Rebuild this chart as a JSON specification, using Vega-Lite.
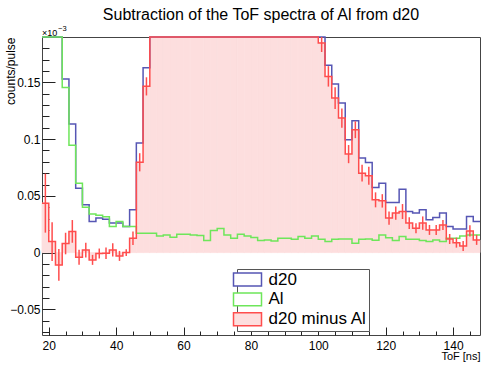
{
  "$schema": "https://vega.github.io/schema/vega-lite/v6.json",
  "autosize": "none",
  "width": 438,
  "height": 298,
  "padding": {"left": 42, "top": 37, "right": 20, "bottom": 32},
  "background": "white",
  "title": {"text": "Subtraction of the ToF spectra of Al from d20", "font": "Liberation Sans", "fontSize": 16, "fontWeight": "normal", "color": "black", "anchor": "middle", "frame": "group", "offset": 2},
  "config": {
    "view": {"stroke": "#444444", "strokeWidth": 1},
    "axis": {"grid": false, "domain": false, "labelFont": "Liberation Sans", "labelFontSize": 12, "labelColor": "black", "tickColor": "#222222", "tickWidth": 1, "titleFont": "Liberation Sans", "titleFontWeight": "normal", "titleColor": "black"},
    "legend": {"labelFont": "Liberation Sans"}
  },
  "data": {"values": [
    {"x0": 18, "x1": 20, "tof": 19, "d20": 0.4636, "Al": 0.42, "d20 minus Al": 0.0436, "err": 0.026},
    {"x0": 20, "x1": 22, "tof": 21, "d20": 0.3397, "Al": 0.33, "d20 minus Al": 0.0097, "err": 0.017},
    {"x0": 22, "x1": 24, "tof": 23, "d20": 0.2291, "Al": 0.24, "d20 minus Al": -0.0109, "err": 0.014},
    {"x0": 24, "x1": 26, "tof": 25, "d20": 0.153, "Al": 0.1455, "d20 minus Al": 0.008, "err": 0.0095},
    {"x0": 26, "x1": 28, "tof": 27, "d20": 0.1133, "Al": 0.0947, "d20 minus Al": 0.0187, "err": 0.01},
    {"x0": 28, "x1": 30, "tof": 29, "d20": 0.0568, "Al": 0.0612, "d20 minus Al": -0.0041, "err": 0.0066},
    {"x0": 30, "x1": 32, "tof": 31, "d20": 0.0421, "Al": 0.04, "d20 minus Al": 0.0022, "err": 0.0066},
    {"x0": 32, "x1": 34, "tof": 33, "d20": 0.0274, "Al": 0.034, "d20 minus Al": -0.0064, "err": 0.0044},
    {"x0": 34, "x1": 36, "tof": 35, "d20": 0.0304, "Al": 0.033, "d20 minus Al": -0.0008, "err": 0.0044},
    {"x0": 36, "x1": 38, "tof": 37, "d20": 0.0295, "Al": 0.0315, "d20 minus Al": -0.0005, "err": 0.0051},
    {"x0": 38, "x1": 40, "tof": 39, "d20": 0.026, "Al": 0.023, "d20 minus Al": 0.0024, "err": 0.0059},
    {"x0": 40, "x1": 42, "tof": 41, "d20": 0.026, "Al": 0.0274, "d20 minus Al": -0.0029, "err": 0.0044},
    {"x0": 42, "x1": 44, "tof": 43, "d20": 0.023, "Al": 0.023, "d20 minus Al": 0.0, "err": 0.003},
    {"x0": 44, "x1": 46, "tof": 45, "d20": 0.0377, "Al": 0.023, "d20 minus Al": 0.0127, "err": 0.0059},
    {"x0": 46, "x1": 48, "tof": 47, "d20": 0.0965, "Al": 0.0171, "d20 minus Al": 0.0796, "err": 0.008},
    {"x0": 48, "x1": 50, "tof": 49, "d20": 0.163, "Al": 0.0171, "d20 minus Al": 0.1465, "err": 0.008},
    {"x0": 50, "x1": 52, "tof": 51, "d20": 0.2571, "Al": 0.0171, "d20 minus Al": 0.24, "err": 0.012},
    {"x0": 52, "x1": 54, "tof": 53, "d20": 0.3247, "Al": 0.0147, "d20 minus Al": 0.31, "err": 0.014},
    {"x0": 54, "x1": 56, "tof": 55, "d20": 0.3956, "Al": 0.0156, "d20 minus Al": 0.38, "err": 0.015},
    {"x0": 56, "x1": 58, "tof": 57, "d20": 0.4536, "Al": 0.0136, "d20 minus Al": 0.44, "err": 0.016},
    {"x0": 58, "x1": 60, "tof": 59, "d20": 0.5062, "Al": 0.0162, "d20 minus Al": 0.49, "err": 0.017},
    {"x0": 60, "x1": 62, "tof": 61, "d20": 0.5462, "Al": 0.0162, "d20 minus Al": 0.53, "err": 0.018},
    {"x0": 62, "x1": 64, "tof": 63, "d20": 0.5756, "Al": 0.0156, "d20 minus Al": 0.56, "err": 0.018},
    {"x0": 64, "x1": 66, "tof": 65, "d20": 0.595, "Al": 0.015, "d20 minus Al": 0.58, "err": 0.018},
    {"x0": 66, "x1": 68, "tof": 67, "d20": 0.6006, "Al": 0.0106, "d20 minus Al": 0.59, "err": 0.018},
    {"x0": 68, "x1": 70, "tof": 69, "d20": 0.5994, "Al": 0.0194, "d20 minus Al": 0.58, "err": 0.018},
    {"x0": 70, "x1": 72, "tof": 71, "d20": 0.5912, "Al": 0.0212, "d20 minus Al": 0.57, "err": 0.018},
    {"x0": 72, "x1": 74, "tof": 73, "d20": 0.5656, "Al": 0.0156, "d20 minus Al": 0.55, "err": 0.018},
    {"x0": 74, "x1": 76, "tof": 75, "d20": 0.5427, "Al": 0.0127, "d20 minus Al": 0.53, "err": 0.018},
    {"x0": 76, "x1": 78, "tof": 77, "d20": 0.5162, "Al": 0.0162, "d20 minus Al": 0.5, "err": 0.017},
    {"x0": 78, "x1": 80, "tof": 79, "d20": 0.4847, "Al": 0.0147, "d20 minus Al": 0.47, "err": 0.017},
    {"x0": 80, "x1": 82, "tof": 81, "d20": 0.4533, "Al": 0.0133, "d20 minus Al": 0.44, "err": 0.016},
    {"x0": 82, "x1": 84, "tof": 83, "d20": 0.4206, "Al": 0.0106, "d20 minus Al": 0.41, "err": 0.016},
    {"x0": 84, "x1": 86, "tof": 85, "d20": 0.3912, "Al": 0.0112, "d20 minus Al": 0.38, "err": 0.015},
    {"x0": 86, "x1": 88, "tof": 87, "d20": 0.3603, "Al": 0.0103, "d20 minus Al": 0.35, "err": 0.015},
    {"x0": 88, "x1": 90, "tof": 89, "d20": 0.3327, "Al": 0.0127, "d20 minus Al": 0.32, "err": 0.014},
    {"x0": 90, "x1": 92, "tof": 91, "d20": 0.3027, "Al": 0.0127, "d20 minus Al": 0.29, "err": 0.014},
    {"x0": 92, "x1": 94, "tof": 93, "d20": 0.2818, "Al": 0.0118, "d20 minus Al": 0.27, "err": 0.013},
    {"x0": 94, "x1": 96, "tof": 95, "d20": 0.2541, "Al": 0.0141, "d20 minus Al": 0.24, "err": 0.013},
    {"x0": 96, "x1": 98, "tof": 97, "d20": 0.2327, "Al": 0.0127, "d20 minus Al": 0.22, "err": 0.012},
    {"x0": 98, "x1": 100, "tof": 99, "d20": 0.2197, "Al": 0.0147, "d20 minus Al": 0.205, "err": 0.012},
    {"x0": 100, "x1": 102, "tof": 101, "d20": 0.1966, "Al": 0.0118, "d20 minus Al": 0.1848, "err": 0.008},
    {"x0": 102, "x1": 104, "tof": 103, "d20": 0.165, "Al": 0.0097, "d20 minus Al": 0.1553, "err": 0.009},
    {"x0": 104, "x1": 106, "tof": 105, "d20": 0.1486, "Al": 0.0118, "d20 minus Al": 0.1362, "err": 0.0096},
    {"x0": 106, "x1": 108, "tof": 107, "d20": 0.1318, "Al": 0.0121, "d20 minus Al": 0.1186, "err": 0.0085},
    {"x0": 108, "x1": 110, "tof": 109, "d20": 0.0994, "Al": 0.0121, "d20 minus Al": 0.0868, "err": 0.008},
    {"x0": 110, "x1": 112, "tof": 111, "d20": 0.1162, "Al": 0.0083, "d20 minus Al": 0.1083, "err": 0.0074},
    {"x0": 112, "x1": 114, "tof": 113, "d20": 0.0833, "Al": 0.0118, "d20 minus Al": 0.07, "err": 0.0074},
    {"x0": 114, "x1": 116, "tof": 115, "d20": 0.0794, "Al": 0.0121, "d20 minus Al": 0.0677, "err": 0.008},
    {"x0": 116, "x1": 118, "tof": 117, "d20": 0.0574, "Al": 0.011, "d20 minus Al": 0.0465, "err": 0.0066},
    {"x0": 118, "x1": 120, "tof": 119, "d20": 0.0612, "Al": 0.0156, "d20 minus Al": 0.0456, "err": 0.0059},
    {"x0": 120, "x1": 122, "tof": 121, "d20": 0.0441, "Al": 0.0132, "d20 minus Al": 0.0304, "err": 0.0059},
    {"x0": 122, "x1": 124, "tof": 123, "d20": 0.0441, "Al": 0.0106, "d20 minus Al": 0.0348, "err": 0.0059},
    {"x0": 124, "x1": 126, "tof": 125, "d20": 0.0559, "Al": 0.0141, "d20 minus Al": 0.0362, "err": 0.0066},
    {"x0": 126, "x1": 128, "tof": 127, "d20": 0.0362, "Al": 0.0118, "d20 minus Al": 0.026, "err": 0.0051},
    {"x0": 128, "x1": 130, "tof": 129, "d20": 0.0348, "Al": 0.0118, "d20 minus Al": 0.0215, "err": 0.0044},
    {"x0": 130, "x1": 132, "tof": 131, "d20": 0.0377, "Al": 0.0106, "d20 minus Al": 0.026, "err": 0.0059},
    {"x0": 132, "x1": 134, "tof": 133, "d20": 0.0289, "Al": 0.0097, "d20 minus Al": 0.02, "err": 0.0044},
    {"x0": 134, "x1": 136, "tof": 135, "d20": 0.0309, "Al": 0.0112, "d20 minus Al": 0.02, "err": 0.0044},
    {"x0": 136, "x1": 138, "tof": 137, "d20": 0.0348, "Al": 0.0097, "d20 minus Al": 0.0244, "err": 0.0044},
    {"x0": 138, "x1": 140, "tof": 139, "d20": 0.023, "Al": 0.0127, "d20 minus Al": 0.012, "err": 0.0044},
    {"x0": 140, "x1": 142, "tof": 141, "d20": 0.0209, "Al": 0.0127, "d20 minus Al": 0.0088, "err": 0.0044},
    {"x0": 142, "x1": 144, "tof": 143, "d20": 0.0209, "Al": 0.0147, "d20 minus Al": 0.0059, "err": 0.0044},
    {"x0": 144, "x1": 146, "tof": 145, "d20": 0.0318, "Al": 0.0156, "d20 minus Al": 0.0191, "err": 0.005},
    {"x0": 146, "x1": 148, "tof": 147, "d20": 0.0274, "Al": 0.0156, "d20 minus Al": 0.0112, "err": 0.0044}
  ]},
  "resolve": {"axis": {"x": "independent", "y": "independent"}},
  "layer": [
    {
      "mark": {"type": "bar", "fill": "#fddede", "stroke": "#fddede", "strokeWidth": 0.8},
      "encoding": {
        "x": {"field": "x0", "type": "quantitative", "scale": {"domain": [18, 148], "nice": false, "zero": false},
              "axis": {"orient": "bottom", "values": [20, 40, 60, 80, 100, 120, 140], "format": "d", "ticks": false, "tickSize": 0, "labelPadding": 5,
                       "title": "ToF [ns]", "titleFontSize": 11, "titleAnchor": "end", "titleAlign": "right", "titleBaseline": "alphabetic", "titleX": 438, "titleY": 24}},
        "x2": {"field": "x1"},
        "y": {"field": "d20 minus Al", "type": "quantitative", "scale": {"domain": [-0.0726, 0.19], "nice": false, "zero": false, "clamp": true},
              "axis": {"orient": "left", "values": [-0.05, 0, 0.05, 0.1, 0.15], "format": "~g", "ticks": false, "tickSize": 0, "labelPadding": 2,
                       "title": "counts/pulse", "titleFontSize": 12, "titleAnchor": "end", "titleAlign": "right", "titleAngle": -90, "titleBaseline": "alphabetic", "titleX": -28, "titleY": 0}},
        "y2": {"datum": 0}
      }
    },
    {
      "transform": [
        {"fold": ["d20", "Al", "d20 minus Al"], "as": ["series", "val"]},
        {"fold": ["x0", "x1"], "as": ["edge", "edgetof"]}
      ],
      "mark": {"type": "line", "strokeWidth": 1.5},
      "encoding": {
        "x": {"field": "edgetof", "type": "quantitative", "axis": {"orient": "bottom", "values": [20, 40, 60, 80, 100, 120, 140], "labels": false, "tickSize": 8, "offset": -8, "title": null}},
        "y": {"field": "val", "type": "quantitative", "axis": {"orient": "left", "values": [-0.05, 0, 0.05, 0.1, 0.15], "labels": false, "tickSize": 13, "offset": -13, "title": null}},
        "stroke": {"field": "series", "type": "nominal",
                   "scale": {"domain": ["d20", "Al", "d20 minus Al"], "range": ["#5656b4", "#6ee65a", "#ff4d4d"]},
                   "legend": {"orient": "none", "legendX": 195, "legendY": 232, "title": null, "padding": 2, "rowPadding": 0.9,
                              "symbolType": "M-2,-0.92H2V0.92H-2Z", "symbolSize": 196, "symbolStrokeWidth": 1.5,
                              "labelFontSize": 17, "labelColor": "black", "labelOffset": 12.5, "labelLimit": 400,
                              "labelExpr": "datum.label + '\u00a0\u00a0\u00a0\u00a0'",
                              "strokeColor": "#555555", "fillColor": "white",
                              "encode": {"symbols": {"update": {"fill": {"signal": "datum.value === 'd20 minus Al' ? '#fddede' : 'white'"}, "opacity": {"value": 1}}}}}},
        "order": [{"field": "x0", "type": "quantitative"}, {"field": "edge", "type": "ordinal"}]
      }
    },
    {
      "mark": {"type": "errorbar", "color": "#ff4d4d", "thickness": 1.5},
      "encoding": {
        "x": {"field": "tof", "type": "quantitative", "axis": {"orient": "bottom", "values": [20, 25, 30, 35, 45, 50, 55, 65, 70, 75, 85, 90, 95, 105, 110, 115, 125, 130, 135, 145], "labels": false, "tickSize": 4, "offset": -4, "title": null}},
        "y": {"field": "d20 minus Al", "type": "quantitative", "axis": {"orient": "left", "values": [-0.07, -0.06, -0.04, -0.03, -0.02, -0.01, 0.01, 0.02, 0.03, 0.04, 0.06, 0.07, 0.08, 0.09, 0.11, 0.12, 0.13, 0.14, 0.16, 0.17, 0.18], "labels": false, "tickSize": 7, "offset": -7, "title": null}},
        "yError": {"field": "err"}
      }
    },
    {
      "data": {"values": [{"s": "×10"}]},
      "mark": {"type": "text", "font": "Liberation Sans", "fontSize": 9, "align": "left", "baseline": "alphabetic", "dy": -1.5, "color": "black"},
      "encoding": {
        "x": {"datum": 18, "type": "quantitative", "axis": null},
        "y": {"datum": 0.19, "type": "quantitative", "axis": null},
        "text": {"field": "s"}
      }
    },
    {
      "data": {"values": [{"s": "−3"}]},
      "mark": {"type": "text", "font": "Liberation Sans", "fontSize": 7.5, "align": "left", "baseline": "alphabetic", "dx": 16, "dy": -6.5, "color": "black"},
      "encoding": {
        "x": {"datum": 18, "type": "quantitative", "axis": null},
        "y": {"datum": 0.19, "type": "quantitative", "axis": null},
        "text": {"field": "s"}
      }
    }
  ]
}
